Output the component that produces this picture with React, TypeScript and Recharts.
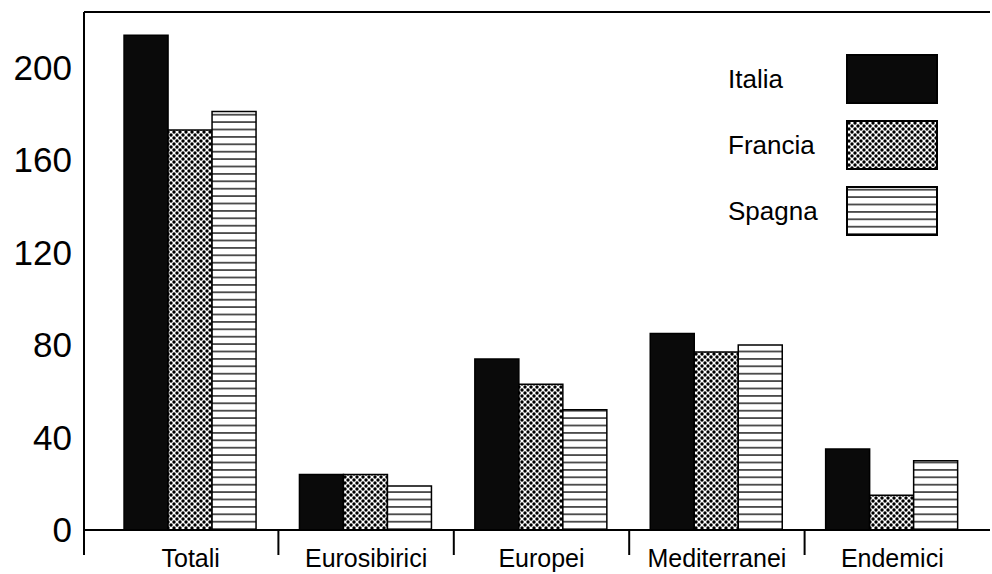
import React from "react";
import {
  Bar,
  BarChart,
  ReferenceLine,
  XAxis,
  YAxis,
} from "recharts";

const CATEGORIE = ["Totali", "Eurosibirici", "Europei", "Mediterranei", "Endemici"];
const ITALIA = [214, 24, 74, 85, 35];
const FRANCIA = [173, 24, 63, 77, 15];
const SPAGNA = [181, 19, 52, 80, 30];
const Y_TICKS = [0, 40, 80, 120, 160, 200];

const SERIE = [
  { key: "italia", nome: "Italia", fill: "#0a0a0a" },
  { key: "francia", nome: "Francia", fill: "url(#pat-francia)" },
  { key: "spagna", nome: "Spagna", fill: "url(#pat-spagna)" },
];

const dati = CATEGORIE.map((c, i) => ({
  categoria: c,
  italia: ITALIA[i],
  francia: FRANCIA[i],
  spagna: SPAGNA[i],
}));

const FONT = "'Liberation Sans', Arial, Helvetica, sans-serif";
const PAD_LEFT = 19;

function Pattern({ id, tipo }: { id: string; tipo: string }) {
  if (tipo === "francia") {
    return (
      <pattern id={id} width="6" height="6" patternUnits="userSpaceOnUse">
        <rect width="6" height="6" fill="#fff" />
        <circle cx="0" cy="0" r="1.7" fill="#000" />
        <circle cx="6" cy="0" r="1.7" fill="#000" />
        <circle cx="0" cy="6" r="1.7" fill="#000" />
        <circle cx="6" cy="6" r="1.7" fill="#000" />
        <circle cx="3" cy="3" r="1.7" fill="#000" />
      </pattern>
    );
  }
  return (
    <pattern id={id} width="8" height="7.4" patternUnits="userSpaceOnUse">
      <rect width="8" height="7.4" fill="#fff" />
      <line x1="0" y1="3.7" x2="8" y2="3.7" stroke="#000" strokeWidth="1.3" />
    </pattern>
  );
}

// y arriva già spostato di tickSize + tickMargin (8px) sotto l'asse
function TickCategoria(props: any) {
  const { x, y, payload } = props;
  const offset = payload?.offset ?? 87.7;
  const bordo = payload.index === 0 ? x - offset - PAD_LEFT : x - offset;
  return (
    <g>
      <line x1={bordo} y1={y - 9} x2={bordo} y2={y + 17} stroke="#000" strokeWidth={2} />
      <text
        x={x}
        y={y + 29}
        textAnchor="middle"
        fontSize={25}
        fontFamily={FONT}
        fill="#000"
      >
        {payload.value}
      </text>
    </g>
  );
}

// legenda disegnata a parte, sopra il grafico
function Legenda() {
  return (
    <div
      style={{
        position: "absolute",
        left: 726,
        top: 46,
        fontFamily: FONT,
        fontSize: 26,
        color: "#000",
      }}
    >
      {SERIE.map((s) => (
        <div
          key={s.key}
          style={{ display: "flex", alignItems: "center", height: 66 }}
        >
          <span style={{ width: 118, paddingLeft: 2 }}>{s.nome}</span>
          <svg width={92} height={50}>
            <defs>
              {s.key !== "italia" && <Pattern id={`leg-${s.key}`} tipo={s.key} />}
            </defs>
            <rect
              x={1}
              y={1}
              width={90}
              height={48}
              fill={s.key === "italia" ? "#0a0a0a" : `url(#leg-${s.key})`}
              stroke="#000"
              strokeWidth={2}
            />
          </svg>
        </div>
      ))}
    </div>
  );
}

export default function App() {
  return (
    <div style={{ position: "absolute", left: 0, top: 0, width: 992, height: 574, background: "#fff" }}>
      <BarChart
        width={992}
        height={574}
        data={dati}
        margin={{ top: 12, right: 2, left: 0, bottom: 0 }}
        barCategoryGap="12%"
        barGap={0}
      >
        <defs>
          <Pattern id="pat-francia" tipo="francia" />
          <Pattern id="pat-spagna" tipo="spagna" />
        </defs>
        <XAxis
          dataKey="categoria"
          height={44}
          padding={{ left: PAD_LEFT, right: 10 }}
          axisLine={{ stroke: "#000", strokeWidth: 2 }}
          tickLine={false}
          tick={<TickCategoria />}
          interval={0}
        />
        <YAxis
          width={84}
          domain={[0, 224]}
          ticks={Y_TICKS}
          allowDataOverflow
          axisLine={{ stroke: "#000", strokeWidth: 2 }}
          tickLine={false}
          tickMargin={6}
          tick={{ fill: "#000", fontSize: 35, fontFamily: FONT }}
        />
        <ReferenceLine y={224} stroke="#000" strokeWidth={2} />
        {SERIE.map((s) => (
          <Bar
            key={s.key}
            dataKey={s.key}
            name={s.nome}
            fill={s.fill}
            stroke="#000"
            strokeWidth={1.5}
            isAnimationActive={false}
          />
        ))}
      </BarChart>
      <Legenda />
    </div>
  );
}
